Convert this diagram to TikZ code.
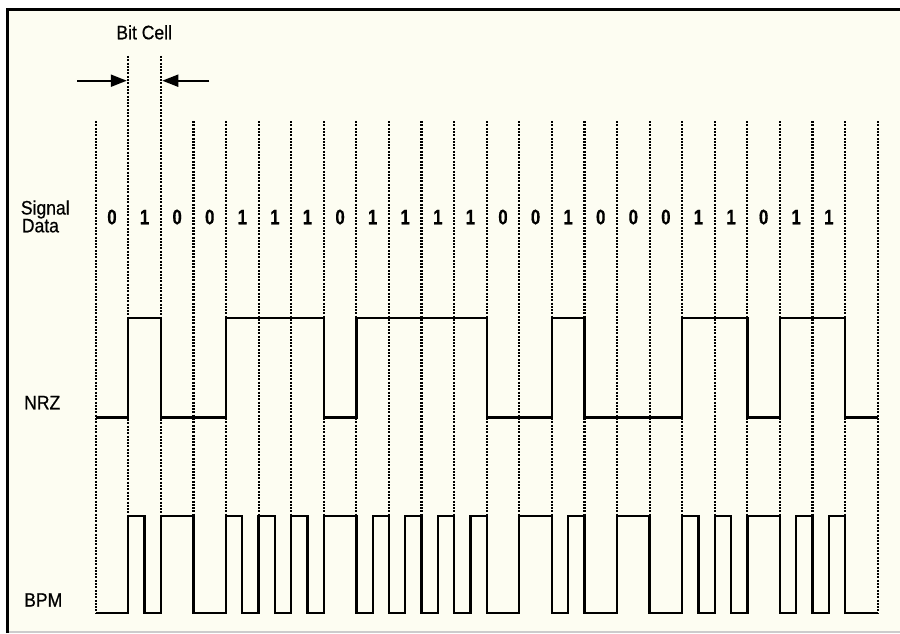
\documentclass[tikz,border=0pt]{standalone}
\usepackage{fontspec}
\setmainfont{Liberation Sans}
\newfontfamily\labelfont[FakeStretch=0.9,FakeBold=0.6]{Liberation Sans}
\newfontfamily\narrowbold[FakeStretch=0.8,FakeBold=0.5]{Liberation Sans Bold}
\usetikzlibrary{arrows.meta}
\definecolor{cream}{RGB}{253,253,242}
\begin{document}
\begin{tikzpicture}[x=1pt,y=-1pt,
  lbl/.style={font=\labelfont\fontsize{19.5}{20}\selectfont, inner sep=0pt, anchor=base west},
  bitlbl/.style={font=\narrowbold\fontsize{21}{22}\selectfont, inner sep=0pt, anchor=base},
  gridline/.style={line width=2.2pt, dash pattern=on 2pt off 1.3pt},
  wave/.style={line width=2.3pt, line join=miter},
  dimarrow/.style={line width=2pt, -{Triangle[length=16pt,width=12pt]}}]
\useasboundingbox (0,0) rectangle (900,634);
\fill[white] (0,0) rectangle (900,634);
\fill[cream] (7.5,9.3) rectangle (900,632);
\draw[black!20, line width=1.2pt] (7.5,632) -- (900,632);
\draw[line width=2.6pt] (7.5,633) -- (7.5,9.3) -- (900,9.3);

% dotted bit-cell boundaries
\foreach \i in {0,...,24} {
  \pgfmathsetmacro\xx{95.7+32.583*\i}
  \pgfmathsetmacro\yt{(\i==1||\i==2) ? 56 : 121}
  \draw[gridline] (\xx,\yt) -- (\xx,613.3);
}

% labels
\node[font=\labelfont\fontsize{19.5}{20}\selectfont, inner sep=0pt, anchor=base] (bitcell) at (144.2,39.3) {Bit Cell};
\node[lbl, text depth=0pt] (signal) at (20.7,214.5) {Signal};
\node[lbl] (data) at (21.7,232.3) {Data};
\node[lbl] (nrz) at (24,409.3) {NRZ};
\node[lbl] (bpm) at (24,606.7) {BPM};

% bit cell arrows
\coordinate (la) at (77.3,80.7);
\coordinate (lb) at (126.8,80.7);
\coordinate (ra) at (209.3,80.7);
\coordinate (rb) at (162.3,80.7);
\draw[dimarrow] (la) -- (lb);
\draw[dimarrow] (ra) -- (rb);

% data bits
\foreach \b [count=\k from 0] in {0,1,0,0,1,1,1,0,1,1,1,1,0,0,1,0,0,0,1,1,0,1,1} {
  \pgfmathsetmacro\xc{95.7+32.583*(\k+0.5)}
  \node[bitlbl] (bit\k) at (\xc,224.3) {\b};
}

\begin{scope}[shift={(95.7,0)}, x=32.583pt]
% NRZ
\def\L{417.5}\def\H{318.3}
\draw[wave] (0,\L) -| (1,\H) -| (2,\L) -| (4,\H) -| (7,\L) -| (8,\H) -| (12,\L)
  -| (14,\H) -| (15,\L) -| (18,\H) -| (20,\L) -| (21,\H) -| (23,\L) -- (24,\L);
% BPM
\def\BL{613.3}\def\BH{516}
\draw[wave] (0,\BL) -| (1,\BH) -| (1.5,\BL) -| (2,\BH) -| (3,\BL) -| (4,\BH)
  -| (4.5,\BL) -| (5,\BH) -| (5.5,\BL) -| (6,\BH) -| (6.5,\BL) -| (7,\BH)
  -| (8,\BL) -| (8.5,\BH) -| (9,\BL) -| (9.5,\BH) -| (10,\BL) -| (10.5,\BH)
  -| (11,\BL) -| (11.5,\BH) -| (12,\BL) -| (13,\BH) -| (14,\BL) -| (14.5,\BH)
  -| (15,\BL) -| (16,\BH) -| (17,\BL) -| (18,\BH) -| (18.5,\BL) -| (19,\BH)
  -| (19.5,\BL) -| (20,\BH) -| (21,\BL) -| (21.5,\BH) -| (22,\BL) -| (22.5,\BH)
  -| (23,\BL) -- (24,\BL);
\end{scope}
\end{tikzpicture}
\end{document}
